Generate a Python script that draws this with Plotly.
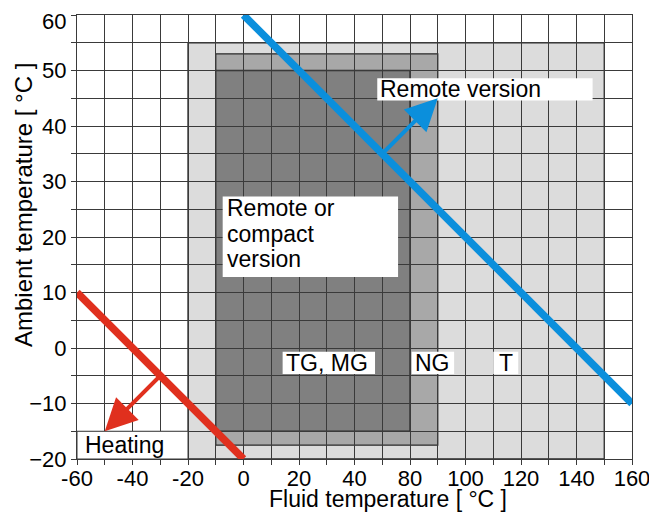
import plotly.graph_objects as go

# ---------------- data ----------------
# x positions on the drawn scale and the labels printed under them (the reference skips "60")
x_tick_vals = [-60, -40, -20, 0, 20, 40, 60, 80, 100, 120, 140]
x_tick_text = ["-60", "-40", "-20", "0", "20", "40", "80", "100", "120", "140", "160"]
y_tick_vals = [-20, -10, 0, 10, 20, 30, 40, 50, 60]

region_names = ["T", "NG", "TG, MG"]
region_x0 = [-20, -10, -10]
region_x1 = [130, 70, 60]
region_y0 = [-20, -17.5, -15]
region_y1 = [55, 53, 50]

remote_x = [0, 140]
remote_y = [60, -10]
heating_x = [-60, 0]
heating_y = [10, -20]

remote_arrow_x = [50, 70]
remote_arrow_y = [35, 45]
heating_arrow_x = [-30, -50]
heating_arrow_y = [-5, -15]

# ---------------- style ----------------
FONT = "Liberation Sans, Arial, sans-serif"
FS_TICK = 22
FS_TEXT = 23
GRID = "#3a3a3a"
BLUE = "#0b8fdc"
RED = "#e0301e"
region_colors = ["#dcdcdc", "#a8a8a8", "#808080"]

fig = go.Figure()

fig.add_trace(go.Scatter(x=heating_x, y=heating_y, mode="lines",
                         line=dict(color=RED, width=7.5), hoverinfo="skip", showlegend=False))
fig.add_trace(go.Scatter(x=remote_x, y=remote_y, mode="lines",
                         line=dict(color=BLUE, width=7.5), hoverinfo="skip", showlegend=False))

shapes = []
for i in range(len(region_names)):
    shapes.append(dict(type="rect", xref="x", yref="y", layer="below",
                       x0=region_x0[i], x1=region_x1[i], y0=region_y0[i], y1=region_y1[i],
                       fillcolor=region_colors[i], line=dict(color="#2a2a2a", width=1.3)))

# white label boxes (positions in axis units)
label_boxes = [
    (48.2, 125.8, 44.6, 48.6),    # Remote version
    (-7.5, 55.7, 12.8, 27.3),     # Remote or compact version
    (14.1, 47.4, -4.7, -0.67),    # TG, MG
    (60.6, 75.9, -4.7, -0.67),    # NG
    (90.0, 99.0, -4.7, -0.67),    # T
]
for (bx0, bx1, by0, by1) in label_boxes:
    shapes.append(dict(type="rect", xref="x", yref="y", layer="above",
                       x0=bx0, x1=bx1, y0=by0, y1=by1,
                       fillcolor="white", line=dict(width=0)))
shapes.append(dict(type="rect", xref="x", yref="y", layer="above",
                   x0=-60, x1=-20, y0=-20, y1=-15,
                   fillcolor="white", line=dict(color=GRID, width=1)))

annotations = []
def txt(x, y, s, xanchor="left"):
    annotations.append(dict(x=x, y=y, xref="x", yref="y", text=s, showarrow=False,
                            xanchor=xanchor, yanchor="middle", borderpad=0,
                            font=dict(family=FONT, size=FS_TEXT, color="black")))

txt(49.0, 46.6, "Remote version")
txt(-6.4, 25.2, "Remote or")
txt(-6.4, 20.6, "compact")
txt(-6.4, 16.0, "version")
txt(15.1, -2.7, "TG, MG")
txt(61.4, -2.7, "NG")
txt(94.5, -2.7, "T", xanchor="center")
txt(-57.6, -17.5, "Heating")

annotations.append(dict(x=remote_arrow_x[1], y=remote_arrow_y[1],
                        ax=remote_arrow_x[0], ay=remote_arrow_y[0],
                        xref="x", yref="y", axref="x", ayref="y", text="",
                        showarrow=True, arrowhead=2, arrowsize=1.6, arrowwidth=4,
                        arrowcolor=BLUE, standoff=0))
annotations.append(dict(x=heating_arrow_x[1], y=heating_arrow_y[1],
                        ax=heating_arrow_x[0], ay=heating_arrow_y[0],
                        xref="x", yref="y", axref="x", ayref="y", text="",
                        showarrow=True, arrowhead=2, arrowsize=1.6, arrowwidth=4,
                        arrowcolor=RED, standoff=0))

# top y tick label sits slightly below its gridline in the reference
annotations.append(dict(x=-0.0162, y=y_tick_vals[-1], xref="paper", yref="y",
                        text=str(y_tick_vals[-1]), showarrow=False,
                        xanchor="right", yanchor="middle", yshift=-6,
                        font=dict(family=FONT, size=FS_TICK, color="black")))

# axis titles
annotations.append(dict(x=0.5595, y=-0.0905, xref="paper", yref="paper",
                        text="Fluid temperature [ °C ]", showarrow=False,
                        xanchor="center", yanchor="middle",
                        font=dict(family=FONT, size=23, color="black")))
annotations.append(dict(x=-0.0973, y=0.572, xref="paper", yref="paper",
                        text="Ambient temperature [ °C ]", showarrow=False, textangle=-90,
                        xanchor="center", yanchor="middle",
                        font=dict(family=FONT, size=24, color="black")))

axis_common = dict(showgrid=True, gridcolor=GRID, gridwidth=1, zeroline=False,
                   showline=True, linecolor=GRID, linewidth=1, mirror=True,
                   ticks="outside", ticklen=5, tickcolor=GRID, tickwidth=1,
                   automargin=False, ticklabeloverflow="allow",
                   tickfont=dict(family=FONT, size=FS_TICK, color="black"))

# page body adds an 8px offset; figure sized so plot area lands where the reference has it
fig.update_layout(
    width=649, height=504,
    margin=dict(l=69, r=25, t=7, b=53),
    paper_bgcolor="white", plot_bgcolor="white",
    showlegend=False,
    shapes=shapes, annotations=annotations,
    xaxis=dict(range=[-60, 140], tickmode="array", tickvals=x_tick_vals, ticktext=x_tick_text,
               ticklabelstandoff=-5,
               minor=dict(tickmode="linear", tick0=-60, dtick=10, showgrid=True,
                          gridcolor=GRID, gridwidth=1, ticks="outside", ticklen=5,
                          tickcolor=GRID),
               **axis_common),
    yaxis=dict(range=[-20, 60], tickmode="array", tickvals=y_tick_vals[:-1],
               minor=dict(tickmode="linear", tick0=-20, dtick=5, showgrid=True,
                          gridcolor=GRID, gridwidth=1, ticks="outside", ticklen=5,
                          tickcolor=GRID),
               **axis_common),
)

fig.write_html("out.html")
